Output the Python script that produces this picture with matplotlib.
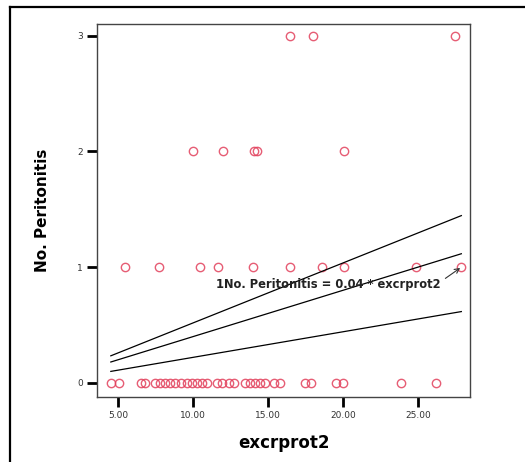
import matplotlib.pyplot as plt
from matplotlib.lines import Line2D
import numpy as np

# excrprot2 values grouped by number of peritonitis episodes
x_zero = [4.53, 5.07, 6.55, 6.82, 7.5, 7.83, 8.17, 8.5, 8.84, 9.24, 9.58, 9.92,
          10.26, 10.6, 10.93, 11.6, 11.94, 12.4, 12.75, 13.49, 13.83, 14.16,
          14.5, 14.83, 15.44, 15.84, 17.46, 17.87, 19.55, 20.0, 23.86, 26.22]
x_one = [5.5, 7.76, 10.5, 11.7, 14.0, 16.5, 18.6, 20.1, 24.9, 27.9]
x_two = [10.0, 12.0, 14.1, 14.25, 20.1]
x_three = [16.5, 18.0, 27.5]

counts = [0, 1, 2, 3]
groups = [x_zero, x_one, x_two, x_three]

# fit through origin with its confidence band slopes
slope_fit = 0.04
slope_upper = 0.0518
slope_lower = 0.0221

xticks = [5, 10, 15, 20, 25]
yticks = [0, 1, 2, 3]

fig = plt.figure(figsize=(5.25, 4.62), dpi=100)
ax = fig.add_axes([0.1848, 0.1407, 0.7105, 0.8074])

pt_color = "#e2405c"
for c, xs in zip(counts, groups):
    ax.plot(xs, [c] * len(xs), "o", mfc="none", mec=pt_color, mew=1.0,
            ms=6, alpha=0.85)

all_x = np.concatenate([np.array(g) for g in groups])
xl = np.array([all_x.min(), all_x.max()])
for s in (slope_upper, slope_fit, slope_lower):
    ax.plot(xl, s * xl, color="black", lw=0.9)

ax.annotate(f"1No. Peritonitis = {slope_fit:.2f} * excrprot2",
            xy=(x_one[-1], 1), xytext=(26.5, 0.85),
            ha="right", va="center", fontsize=8.3, fontweight="bold",
            color="#222222",
            arrowprops=dict(arrowstyle="->", color="#333333", lw=0.8,
                            shrinkA=2, shrinkB=1, relpos=(1, 0.7)))

ax.set_xlim(3.61, 28.48)
ax.set_ylim(-0.121, 3.10)
ax.set_xticks(xticks)
ax.set_xticklabels([f"{t:.2f}" for t in xticks])
ax.set_yticks(yticks)
ax.tick_params(axis="both", length=7, width=2, labelsize=6.5,
               colors="black", labelcolor="#333333", pad=3)

for sp in ax.spines.values():
    sp.set_linewidth(1.0)
    sp.set_color("#444444")

ax.set_xlabel("excrprot2", fontsize=12, fontweight="bold", labelpad=10)
ax.set_ylabel("No. Peritonitis", fontsize=11, fontweight="bold", labelpad=20)

# outer frame around the chart
fig.add_artist(Line2D([0.019, 0.019], [0.0, 0.985], color="black", lw=1.6))
fig.add_artist(Line2D([0.019, 1.0], [0.985, 0.985], color="black", lw=1.6))

fig.savefig("out.png", dpi=100)
